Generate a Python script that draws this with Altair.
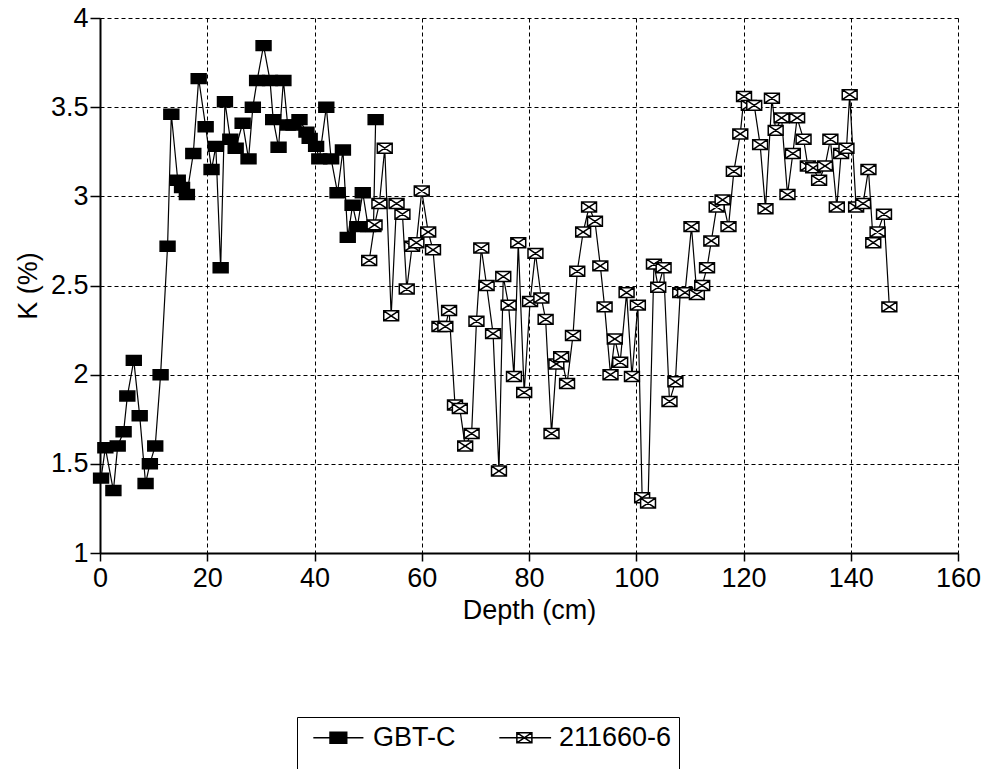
import altair as alt
import pandas as pd

# ---- data ----
gbt_depth = [0.2, 1.0, 2.5, 3.3, 4.4, 5.1, 6.3, 7.4, 8.5, 9.3,
             10.3, 11.3, 12.6, 13.3, 14.5, 15.3, 16.2, 17.4, 18.4, 19.7,
             20.8, 21.6, 22.5, 23.3, 24.3, 25.3, 26.6, 27.7, 28.5, 29.3,
             30.5, 31.7, 32.3, 33.3, 34.2, 35.0, 36.1, 37.2, 38.5, 39.1,
             40.3, 40.9, 42.2, 43.1, 44.3, 45.3, 46.2, 47.1, 48.0, 49.0,
             50.0, 51.0, 51.4]
gbt_k = [1.42, 1.59, 1.35, 1.60, 1.68, 1.88, 2.08, 1.77, 1.39, 1.50,
         1.60, 2.00, 2.72, 3.46, 3.09, 3.05, 3.01, 3.24, 3.66, 3.39,
         3.15, 3.28, 2.60, 3.53, 3.32, 3.27, 3.41, 3.21, 3.50, 3.65,
         3.845, 3.65, 3.43, 3.275, 3.65, 3.40, 3.40, 3.43, 3.36, 3.325,
         3.28, 3.21, 3.50, 3.21, 3.02, 3.26, 2.77, 2.95, 2.83, 3.02,
         2.83, 2.83, 3.43]

s2_depth = [50.2, 51.2, 52.1, 53.1, 54.3, 55.3, 56.4, 57.2, 58.2, 59.0,
            60.0, 61.2, 62.1, 63.3, 64.4, 65.1, 66.2, 67.1, 68.1, 69.3,
            70.2, 71.1, 72.1, 73.3, 74.4, 75.2, 76.2, 77.2, 78.0, 79.1,
            80.2, 81.2, 82.3, 83.1, 84.2, 85.1, 86.0, 87.1, 88.2, 89.0,
            90.1, 91.2, 92.3, 93.3, 94.1, 95.2, 96.0, 97.0, 98.2, 99.2,
            100.3, 101.1, 102.2, 103.3, 104.1, 105.1, 106.2, 107.3, 108.2, 109.1,
            110.3, 111.3, 112.3, 113.2, 114.0, 115.0, 116.1, 117.2, 118.2, 119.4,
            120.1, 121.0, 122.0, 123.1, 124.1, 125.3, 126.0, 127.1, 128.2, 129.2,
            130.0, 131.2, 132.0, 133.0, 134.1, 135.2, 136.2, 137.4, 138.2, 139.2,
            139.8, 141.0, 142.3, 143.3, 144.2, 145.0, 146.2, 147.2]
s2_k = [2.64, 2.84, 2.96, 3.27, 2.33, 2.96, 2.90, 2.48, 2.72, 2.74,
        3.03, 2.80, 2.70, 2.27, 2.27, 2.36, 1.83, 1.81, 1.60, 1.67,
        2.30, 2.71, 2.50, 2.23, 1.46, 2.55, 2.39, 1.99, 2.74, 1.90,
        2.41, 2.68, 2.43, 2.31, 1.67, 2.06, 2.10, 1.95, 2.22, 2.58,
        2.80, 2.94, 2.86, 2.61, 2.38, 2.00, 2.20, 2.07, 2.46, 1.99,
        2.39, 1.31, 1.28, 2.62, 2.49, 2.60, 1.85, 1.96, 2.46, 2.46,
        2.83, 2.45, 2.50, 2.60, 2.75, 2.94, 2.98, 2.83, 3.14, 3.35,
        3.56, 3.51, 3.51, 3.29, 2.93, 3.55, 3.37, 3.44, 3.01, 3.24,
        3.44, 3.32, 3.17, 3.16, 3.09, 3.17, 3.32, 2.94, 3.24, 3.27,
        3.57, 2.94, 2.96, 3.15, 2.74, 2.80, 2.90, 2.38]

series_names = ["GBT-C", "211660-6"]
x_ticks = [0, 20, 40, 60, 80, 100, 120, 140, 160]
y_ticks = [1, 1.5, 2, 2.5, 3, 3.5, 4]

df = pd.concat([
    pd.DataFrame({"series": series_names[0], "depth": gbt_depth, "K": gbt_k, "order": 0}),
    pd.DataFrame({"series": series_names[1], "depth": s2_depth, "K": s2_k, "order": 1}),
], ignore_index=True)

FONT = "Liberation Sans"

# marker shapes
rect_path = "M-0.93,-0.62L0.93,-0.62L0.93,0.62L-0.93,0.62Z"
rectx_path = rect_path + "M-0.93,-0.62L0.93,0.62M0.93,-0.62L-0.93,0.62"
leg1 = "M-0.5,0L5.5,0M1.5,-0.65L3.5,-0.65L3.5,0.65L1.5,0.65Z"
leg2 = "M-0.5,0L5.7,0M1.6,-0.6L3.4,-0.6L3.4,0.6L1.6,0.6ZM1.6,-0.6L3.4,0.6M3.4,-0.6L1.6,0.6"

x_enc = alt.X("depth:Q", scale=alt.Scale(domain=[0, 160], nice=False, zero=False),
              axis=alt.Axis(values=x_ticks, title="Depth (cm)", grid=True,
                            labelFlush=False, labelOverlap=False,
                            tickSize=8, labelPadding=4, titlePadding=6))
y_enc = alt.Y("K:Q", scale=alt.Scale(domain=[1, 4], nice=False, zero=False),
              axis=alt.Axis(values=y_ticks, title="K (%)", grid=True, format="~g",
                            labelFlush=False, labelOverlap=False,
                            tickSize=10, labelPadding=2, titlePadding=8))

base = alt.Chart(df)

lines = base.mark_line(color="black", strokeWidth=1.2).encode(
    x=x_enc, y=y_enc, detail="series:N")

points = base.mark_point(filled=True, stroke="black", strokeWidth=1.5, opacity=1, size=256).encode(
    x=x_enc, y=y_enc,
    shape=alt.Shape("series:N", scale=alt.Scale(domain=series_names, range=[rect_path, rectx_path]), legend=None),
    fill=alt.Fill("series:N", scale=alt.Scale(domain=series_names, range=["black", "white"]), legend=None),
    order="order:Q",
)


def make_legend():
    return alt.Legend(orient="none", legendX=197, legendY=699, direction="horizontal",
                      title=" ", titleOrient="bottom", titleFontSize=27,
                      strokeColor="black", padding=7,
                      symbolSize=279, symbolStrokeWidth=1.5, symbolStrokeColor="black",
                      labelOffset=42, columnPadding=34,
                      labelFont=FONT, labelFontSize=27, labelColor="black")


legend_layer = base.transform_filter("false").mark_point(
    filled=True, strokeWidth=1.5, opacity=1).encode(
    x=x_enc, y=y_enc,
    shape=alt.Shape("series:N", scale=alt.Scale(domain=series_names, range=[leg1, leg2]),
                    legend=make_legend()),
    fill=alt.Fill("series:N", scale=alt.Scale(domain=series_names, range=["black", "white"]),
                  legend=make_legend()),
    stroke=alt.Stroke("series:N", scale=alt.Scale(domain=series_names, range=["black", "black"]),
                      legend=make_legend()),
)

chart = alt.layer(lines, points, legend_layer).resolve_scale(
    shape="independent", fill="independent", stroke="independent"
).properties(
    width=858, height=535,
    autosize=alt.AutoSizeParams(type="none"),
    padding={"left": 100, "top": 18, "right": 31, "bottom": 216},
    background="white",
).configure_view(stroke=None).configure_axis(
    gridColor="black", gridDash=[4, 3], gridWidth=1, gridOpacity=1,
    domainColor="black", domainWidth=2,
    tickColor="black", tickWidth=1.5,
    labelFont=FONT, labelFontSize=27, labelColor="black",
    titleFont=FONT, titleFontSize=27, titleColor="black", titleFontWeight="normal",
)

chart.save("out.html", embed_options={"renderer": "svg", "actions": False})
